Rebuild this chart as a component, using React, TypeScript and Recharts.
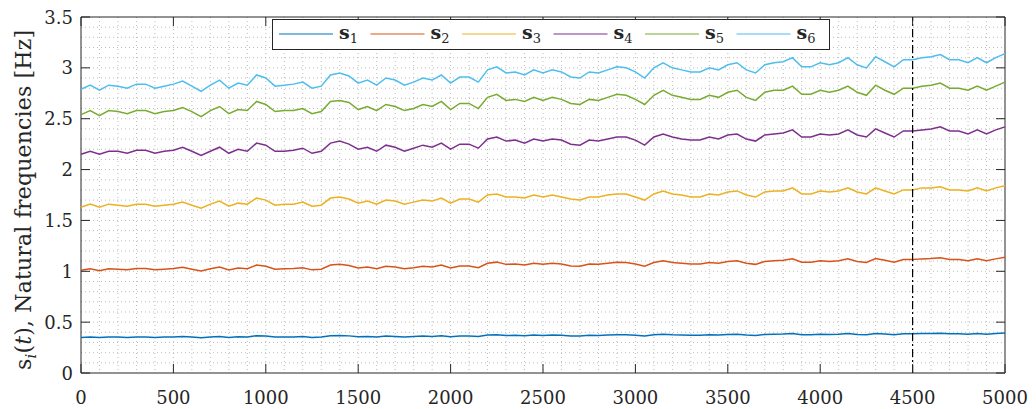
import React from 'react';
import { LineChart, Line, XAxis, YAxis, CartesianGrid, ReferenceLine, ReferenceArea } from 'recharts';

// sample every 50 time steps, 0..5000
const time: number[] = Array.from({ length: 101 }, (_, i) => i * 50);

const s6: number[] = [
  2.79, 2.83, 2.78, 2.83, 2.82, 2.80, 2.84, 2.84, 2.80, 2.82,
  2.84, 2.87, 2.82, 2.77, 2.83, 2.88, 2.80, 2.85, 2.83, 2.93,
  2.90, 2.82, 2.83, 2.84, 2.86, 2.80, 2.82, 2.93, 2.95, 2.92,
  2.85, 2.88, 2.83, 2.90, 2.88, 2.83, 2.86, 2.90, 2.88, 2.93,
  2.85, 2.91, 2.91, 2.86, 2.98, 3.01, 2.95, 2.96, 2.93, 2.98,
  2.95, 2.98, 2.96, 2.91, 2.90, 2.96, 2.95, 2.98, 3.01, 3.00,
  2.96, 2.90, 3.00, 3.05, 3.00, 2.98, 2.96, 2.96, 3.00, 2.98,
  3.03, 3.05, 2.98, 2.95, 3.03, 3.05, 3.06, 3.10, 3.01, 3.01,
  3.05, 3.03, 3.05, 3.10, 3.03, 3.00, 3.11, 3.06, 3.01, 3.08,
  3.08, 3.10, 3.11, 3.13, 3.08, 3.08, 3.05, 3.10, 3.05, 3.10,
  3.14,
];

const s5: number[] = [
  2.54, 2.58, 2.53, 2.58, 2.57, 2.55, 2.58, 2.58, 2.55, 2.57,
  2.58, 2.61, 2.57, 2.52, 2.58, 2.62, 2.55, 2.59, 2.58, 2.67,
  2.64, 2.57, 2.58, 2.58, 2.60, 2.55, 2.57, 2.67, 2.68, 2.66,
  2.59, 2.62, 2.58, 2.64, 2.62, 2.58, 2.60, 2.64, 2.62, 2.67,
  2.59, 2.65, 2.65, 2.60, 2.71, 2.74, 2.68, 2.69, 2.67, 2.71,
  2.68, 2.71, 2.69, 2.65, 2.64, 2.69, 2.68, 2.71, 2.74, 2.73,
  2.69, 2.64, 2.73, 2.78, 2.73, 2.71, 2.69, 2.69, 2.73, 2.71,
  2.76, 2.78, 2.71, 2.68, 2.76, 2.78, 2.78, 2.82, 2.74, 2.74,
  2.78, 2.76, 2.78, 2.82, 2.76, 2.73, 2.83, 2.78, 2.74, 2.80,
  2.80, 2.82, 2.83, 2.85, 2.80, 2.80, 2.78, 2.82, 2.78, 2.82,
  2.86,
];

const s4: number[] = [
  2.15, 2.18, 2.15, 2.18, 2.18, 2.16, 2.19, 2.19, 2.16, 2.18,
  2.19, 2.22, 2.18, 2.14, 2.18, 2.22, 2.16, 2.20, 2.18, 2.26,
  2.24, 2.18, 2.18, 2.19, 2.21, 2.16, 2.18, 2.26, 2.28, 2.25,
  2.20, 2.22, 2.18, 2.24, 2.22, 2.18, 2.21, 2.24, 2.22, 2.26,
  2.20, 2.25, 2.25, 2.21, 2.30, 2.32, 2.28, 2.29, 2.26, 2.30,
  2.28, 2.30, 2.29, 2.25, 2.24, 2.29, 2.28, 2.30, 2.32, 2.32,
  2.29, 2.24, 2.32, 2.35, 2.32, 2.30, 2.29, 2.29, 2.32, 2.30,
  2.34, 2.35, 2.30, 2.28, 2.34, 2.35, 2.36, 2.39, 2.32, 2.32,
  2.35, 2.34, 2.35, 2.39, 2.34, 2.32, 2.40, 2.36, 2.32, 2.38,
  2.38, 2.39, 2.40, 2.42, 2.38, 2.38, 2.35, 2.39, 2.35, 2.39,
  2.42,
];

const s3: number[] = [
  1.63, 1.66, 1.63, 1.66, 1.65, 1.64, 1.66, 1.66, 1.64, 1.65,
  1.66, 1.68, 1.65, 1.62, 1.66, 1.69, 1.64, 1.67, 1.66, 1.72,
  1.70, 1.65, 1.66, 1.66, 1.68, 1.64, 1.65, 1.72, 1.73, 1.71,
  1.67, 1.69, 1.66, 1.70, 1.69, 1.66, 1.68, 1.70, 1.69, 1.72,
  1.67, 1.71, 1.71, 1.68, 1.75, 1.76, 1.73, 1.73, 1.72, 1.75,
  1.73, 1.75, 1.73, 1.71, 1.70, 1.73, 1.73, 1.75, 1.76, 1.76,
  1.73, 1.70, 1.76, 1.79, 1.76, 1.75, 1.73, 1.73, 1.76, 1.75,
  1.78, 1.79, 1.75, 1.73, 1.78, 1.79, 1.79, 1.82, 1.76, 1.76,
  1.79, 1.78, 1.79, 1.82, 1.78, 1.76, 1.82, 1.79, 1.76, 1.80,
  1.80, 1.82, 1.82, 1.83, 1.80, 1.80, 1.79, 1.82, 1.79, 1.82,
  1.84,
];

const s2: number[] = [
  1.010, 1.025, 1.006, 1.025, 1.021, 1.014, 1.028, 1.028, 1.014, 1.021,
  1.028, 1.039, 1.021, 1.003, 1.025, 1.043, 1.014, 1.032, 1.025, 1.061,
  1.050, 1.021, 1.025, 1.028, 1.035, 1.014, 1.021, 1.061, 1.068, 1.057,
  1.032, 1.043, 1.025, 1.050, 1.043, 1.025, 1.035, 1.050, 1.043, 1.061,
  1.032, 1.053, 1.053, 1.035, 1.079, 1.090, 1.068, 1.072, 1.061, 1.079,
  1.068, 1.079, 1.072, 1.053, 1.050, 1.072, 1.068, 1.079, 1.090, 1.086,
  1.072, 1.050, 1.086, 1.104, 1.086, 1.079, 1.072, 1.072, 1.086, 1.079,
  1.097, 1.104, 1.079, 1.068, 1.097, 1.104, 1.108, 1.122, 1.090, 1.090,
  1.104, 1.097, 1.104, 1.122, 1.097, 1.086, 1.126, 1.108, 1.090, 1.115,
  1.115, 1.122, 1.126, 1.133, 1.115, 1.115, 1.104, 1.122, 1.104, 1.122,
  1.137,
];

const s1: number[] = [
  0.349, 0.354, 0.348, 0.354, 0.353, 0.350, 0.355, 0.355, 0.350, 0.353,
  0.355, 0.359, 0.353, 0.346, 0.354, 0.360, 0.350, 0.356, 0.354, 0.366,
  0.363, 0.353, 0.354, 0.355, 0.358, 0.350, 0.353, 0.366, 0.369, 0.365,
  0.356, 0.360, 0.354, 0.363, 0.360, 0.354, 0.358, 0.363, 0.360, 0.366,
  0.356, 0.364, 0.364, 0.358, 0.373, 0.376, 0.369, 0.370, 0.366, 0.373,
  0.369, 0.373, 0.370, 0.364, 0.363, 0.370, 0.369, 0.373, 0.376, 0.375,
  0.370, 0.363, 0.375, 0.381, 0.375, 0.373, 0.370, 0.370, 0.375, 0.373,
  0.379, 0.381, 0.373, 0.369, 0.379, 0.381, 0.383, 0.388, 0.376, 0.376,
  0.381, 0.379, 0.381, 0.388, 0.379, 0.375, 0.389, 0.383, 0.376, 0.385,
  0.385, 0.388, 0.389, 0.391, 0.385, 0.385, 0.381, 0.388, 0.381, 0.388,
  0.393,
];

const xTicks = [0, 500, 1000, 1500, 2000, 2500, 3000, 3500, 4000, 4500, 5000];
const yTicks = [0, 0.5, 1, 1.5, 2, 2.5, 3, 3.5];
const seriesNames = ['s1', 's2', 's3', 's4', 's5', 's6'];
const colors = ['#0072BD', '#D95319', '#EDB120', '#7E2F8E', '#77AC30', '#4DBEEE'];

// minor grid every 100 / 0.1
const gridX = Array.from({ length: 49 }, (_, i) => (i + 1) * 100);
const gridY = Array.from({ length: 34 }, (_, i) => Math.round((i + 1) * 10) / 100);

const data = time.map((t, i) => ({ t, s1: s1[i], s2: s2[i], s3: s3[i], s4: s4[i], s5: s5[i], s6: s6[i] }));

// only DejaVu Serif actually resolves to a serif face here
const FONT = "'DejaVu Serif'";
const AX = '#262626';
const PLOT = { left: 81, right: 1005, top: 17, bottom: 373 };

const XTick = ({ x, payload }: any) => (
  <g>
    <line x1={x} x2={x} y1={PLOT.bottom} y2={PLOT.bottom - 9} stroke={AX} />
    <line x1={x} x2={x} y1={PLOT.top} y2={PLOT.top + 9} stroke={AX} />
    <text x={x} y={404} textAnchor="middle" fill={AX} fontSize={18} style={{ fontFamily: FONT }}>{payload.value}</text>
  </g>
);

const YTick = ({ y, payload }: any) => (
  <g>
    <line x1={PLOT.left} x2={PLOT.left + 9} y1={y} y2={y} stroke={AX} />
    <line x1={PLOT.right} x2={PLOT.right - 9} y1={y} y2={y} stroke={AX} />
    <text x={73} y={y + 6.5} textAnchor="end" fill={AX} fontSize={18} style={{ fontFamily: FONT }}>{payload.value}</text>
  </g>
);

const YLabel = () => (
  <text
    transform="translate(31,200) rotate(-90)"
    textAnchor="middle"
    fill={AX}
    fontSize={22}
    style={{ fontFamily: FONT }}
    textLength={340}
    lengthAdjust="spacing"
  >
    s<tspan fontStyle="italic" fontSize={15} dy={5}>i</tspan>
    <tspan dy={-5}>(</tspan><tspan fontStyle="italic">t</tspan>), Natural frequencies [Hz]
  </text>
);

const ChartLegend = () => (
  <svg width={558} height={31} style={{ position: 'absolute', left: 272, top: 19, display: 'block' }}>
    <rect x={0.5} y={0.5} width={557} height={30} fill="#fff" stroke={AX} />
    {seriesNames.map((n, i) => {
      const x0 = 7 + i * 91.5;
      return (
        <g key={n}>
          <line x1={x0} x2={x0 + 54} y1={15} y2={15} stroke={colors[i]} strokeWidth={1.2} />
          <text x={x0 + 60} y={20} fill={AX} style={{ fontFamily: FONT }}>
            <tspan fontSize={19} fontWeight="bold">s</tspan>
            <tspan fontSize={13} dy={4}>{i + 1}</tspan>
          </text>
        </g>
      );
    })}
  </svg>
);

export default function App() {
  return (
    <div style={{ position: 'absolute', left: 0, top: 0, width: 1036, height: 409, background: '#fff' }}>
      <LineChart width={1036} height={409} data={data} margin={{ top: 17, right: 31, bottom: 6, left: 31 }}>
        <CartesianGrid
          stroke="#bdbdbd"
          strokeDasharray="1 3"
          horizontalValues={gridY}
          verticalValues={gridX}
        />
        <XAxis
          dataKey="t"
          type="number"
          domain={[0, 5000]}
          ticks={xTicks}
          height={30}
          axisLine={false}
          tickLine={false}
          tick={<XTick />}
          interval={0}
        />
        <YAxis
          type="number"
          domain={[0, 3.5]}
          ticks={yTicks}
          width={50}
          axisLine={false}
          tickLine={false}
          tick={<YTick />}
          interval={0}
          label={<YLabel />}
        />
        {seriesNames.map((n, i) => (
          <Line
            key={n}
            type="linear"
            dataKey={n}
            stroke={colors[i]}
            strokeWidth={1.5}
            dot={false}
            isAnimationActive={false}
          />
        ))}
        <ReferenceLine x={4500} stroke="#000" strokeWidth={1.2} strokeDasharray="8 3 2 3" />
        <ReferenceArea x1={0} x2={5000} y1={0} y2={3.5} fill="none" stroke={AX} strokeWidth={1} />
      </LineChart>
      <ChartLegend />
    </div>
  );
}
